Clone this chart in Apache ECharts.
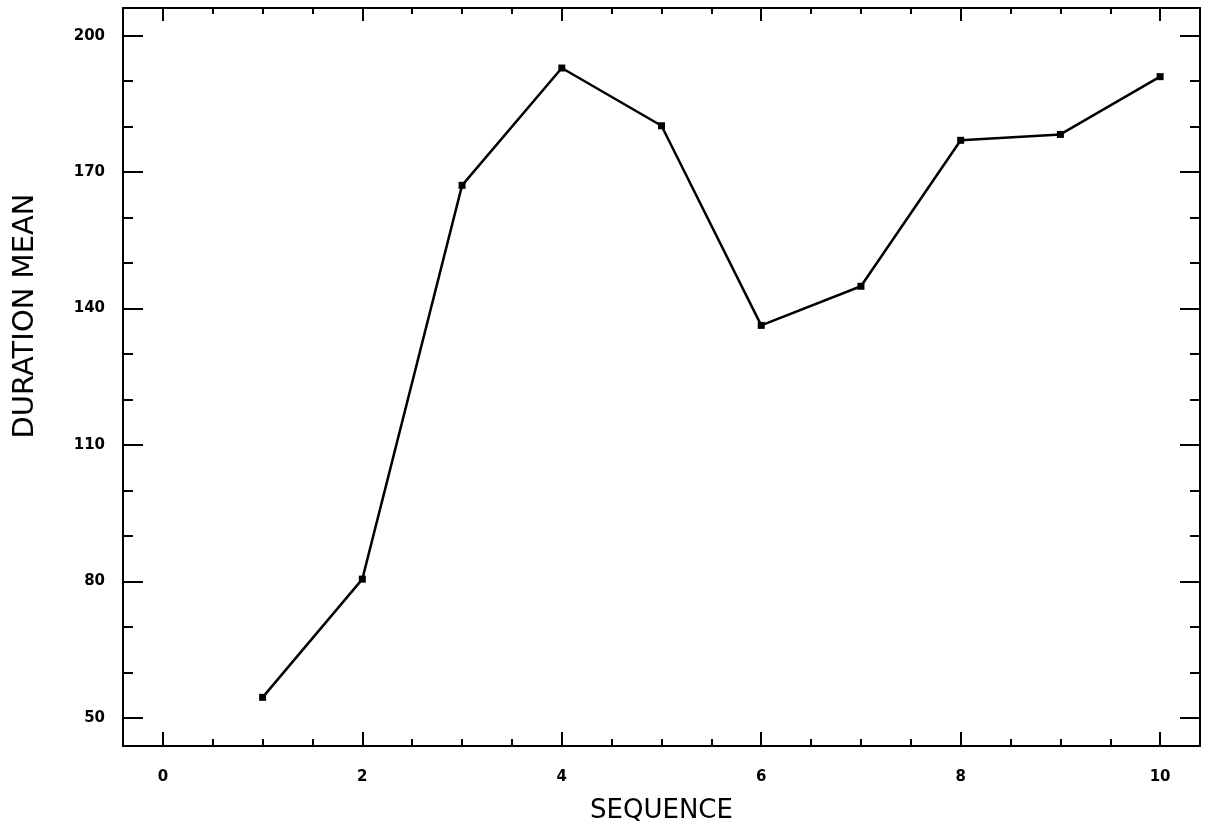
<!DOCTYPE html>
<html>
<head>
<meta charset="utf-8">
<script src="https://cdn.jsdelivr.net/npm/echarts@6/dist/echarts.min.js"></script>
<style>
html,body{margin:0;padding:0;background:#fff;}
#chart{width:1207px;height:829px;}
</style>
</head>
<body>
<div id="chart"></div>
<script>
// Data
var sequence = [1, 2, 3, 4, 5, 6, 7, 8, 9, 10];
var durationMean = [54.5, 80.5, 167.1, 192.9, 180.2, 136.3, 144.9, 177.0, 178.3, 191.0];
var xMajorTicks = [0, 2, 4, 6, 8, 10];
var xMinorTicks = [0, 0.5, 1, 1.5, 2, 2.5, 3, 3.5, 4, 4.5, 5, 5.5, 6, 6.5, 7, 7.5, 8, 8.5, 9, 9.5, 10];
var yMajorTicks = [50, 80, 110, 140, 170, 200];
var yMinorTicks = [50, 60, 70, 80, 90, 100, 110, 120, 130, 140, 150, 160, 170, 180, 190, 200];

var X_MIN = -0.4, X_MAX = 10.4, Y_MIN = 43.8, Y_MAX = 206.1;
var ink = '#000';
var labelStyle = {color: ink, fontFamily: 'DejaVu Sans', fontWeight: 'bold', fontSize: 15};
var xTitleStyle = {color: ink, fontFamily: 'DejaVu Sans', fontWeight: 'normal', fontSize: 26};
var yTitleStyle = {color: ink, fontFamily: 'DejaVu Sans', fontWeight: 'normal', fontSize: 29};

function xAx(pos, ticks, len, withLabel, withLine, extra) {
  var a = {
    type: 'value', position: pos, min: X_MIN, max: X_MAX,
    splitLine: {show: false},
    axisLine: {show: withLine, onZero: false, lineStyle: {color: ink, width: 2}},
    axisTick: {show: true, inside: true, length: len, customValues: ticks, lineStyle: {color: ink, width: 2}},
    axisLabel: withLabel ? Object.assign({show: true, margin: 24, customValues: ticks}, labelStyle) : {show: false}
  };
  return Object.assign(a, extra || {});
}
function yAx(pos, ticks, len, withLabel, withLine, extra) {
  var a = {
    type: 'value', position: pos, min: Y_MIN, max: Y_MAX,
    splitLine: {show: false},
    axisLine: {show: withLine, onZero: false, lineStyle: {color: ink, width: 2}},
    axisTick: {show: true, inside: true, length: len, customValues: ticks, lineStyle: {color: ink, width: 2}},
    axisLabel: withLabel ? Object.assign({show: true, margin: 18, customValues: ticks}, labelStyle) : {show: false}
  };
  return Object.assign(a, extra || {});
}

var chart = echarts.init(document.getElementById('chart'), null, {renderer: 'canvas'});
chart.setOption({
  backgroundColor: '#fff',
  animation: false,
  grid: {left: 123, right: 7, top: 8, bottom: 83, containLabel: false},
  xAxis: [
    xAx('bottom', xMajorTicks, 14, true, true, {
      name: 'SEQUENCE', nameLocation: 'middle', nameGap: 52, nameTextStyle: xTitleStyle
    }),
    xAx('bottom', xMinorTicks, 7, false, false),
    xAx('top', xMajorTicks, 13, false, true),
    xAx('top', xMinorTicks, 6, false, false)
  ],
  yAxis: [
    yAx('left', yMajorTicks, 20, true, true, {
      name: 'DURATION MEAN', nameLocation: 'middle', nameGap: 83, nameRotate: 90,
      nameTextStyle: Object.assign({padding: [0, 0, 0, 122]}, yTitleStyle)
    }),
    yAx('left', yMinorTicks, 10, false, false),
    yAx('right', yMajorTicks, 20, false, true),
    yAx('right', yMinorTicks, 10, false, false)
  ],
  series: [{
    type: 'line',
    xAxisIndex: 0, yAxisIndex: 0,
    data: sequence.map(function (s, i) { return [s, durationMean[i]]; }),
    symbol: 'rect', symbolSize: 7,
    itemStyle: {color: ink},
    lineStyle: {color: ink, width: 2.5}
  }]
});
</script>
</body>
</html>
